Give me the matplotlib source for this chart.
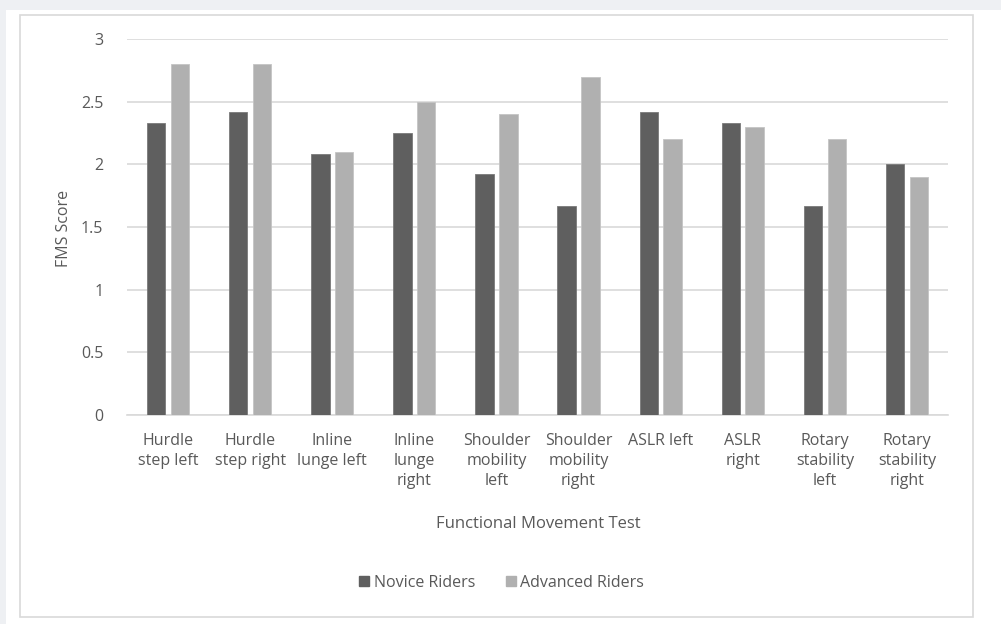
import matplotlib.pyplot as plt
from matplotlib.patches import Rectangle
from matplotlib.lines import Line2D
import numpy as np

tests = ["Hurdle\nstep left", "Hurdle\nstep right", "Inline\nlunge left", "Inline\nlunge\nright",
         "Shoulder\nmobility\nleft", "Shoulder\nmobility\nright", "ASLR left", "ASLR\nright",
         "Rotary\nstability\nleft", "Rotary\nstability\nright"]
novice = [2.33, 2.42, 2.08, 2.25, 1.92, 1.67, 2.42, 2.33, 1.67, 2.0]
advanced = [2.8, 2.8, 2.1, 2.5, 2.4, 2.7, 2.2, 2.3, 2.2, 1.9]
yticks = [0, 0.5, 1, 1.5, 2, 2.5, 3]

TXT = "#595959"
plt.rcParams['font.family'] = ['Open Sans', 'DejaVu Sans']

fig = plt.figure(figsize=(10.01, 6.24), dpi=100, facecolor="#eef0f3")
W, H = 1001, 624
# white chart panel and its thin border
fig.patches.append(Rectangle((6 / W, 0), 1, 1 - 10 / H, transform=fig.transFigure,
                             facecolor="white", edgecolor="none", zorder=-2))
fig.patches.append(Rectangle((20 / W, 1 - 617 / H), 953 / W, 602 / H, transform=fig.transFigure,
                             facecolor="none", edgecolor="#d9d9d9", lw=1.2, zorder=-1))

ax = fig.add_axes([127 / W, 1 - 415 / H, 821 / W, 376 / H])
ax.set_zorder(2)
ax.set_facecolor("none")
x = np.arange(len(tests))
bw = 0.225
ax.bar(x - 0.145, novice, bw, color="#5f5f5f", edgecolor="#7a7a7a", lw=0.6, zorder=3)
ax.bar(x + 0.145, advanced, bw, color="#b0b0b0", edgecolor="#c4c4c4", lw=0.6, zorder=3)

ax.set_xlim(-0.5, len(tests) - 0.5)
ax.set_ylim(0, 3)
ax.set_yticks(yticks)
ax.set_yticklabels([f"{v:g}" for v in yticks])
ax.yaxis.grid(True, color="#d9d9d9", lw=1.2, zorder=0)
ax.set_axisbelow(True)
ax.set_xticks(x)
ax.set_xticklabels(tests, linespacing=1.35)
ax.tick_params(axis="both", length=0, colors=TXT, labelsize=11.5)
ax.tick_params(axis="x", pad=13)
ax.tick_params(axis="y", pad=17)
for s in ["top", "right", "left"]:
    ax.spines[s].set_visible(False)
ax.spines["bottom"].set_color("#d9d9d9")
ax.spines["bottom"].set_linewidth(1.2)

fig.text(64 / W, 1 - 228 / H, "FMS Score", rotation=90, ha="center", va="center",
         color=TXT, fontsize=11.5)
fig.text(538 / W, 1 - 524 / H, "Functional Movement Test", ha="center", va="center",
         color=TXT, fontsize=12)

handles = [Line2D([], [], ls="none", marker="s", ms=6.5, color="#5f5f5f"),
           Line2D([], [], ls="none", marker="s", ms=6.5, color="#b0b0b0")]
fig.legend(handles, ["Novice Riders", "Advanced Riders"], loc="center",
           bbox_to_anchor=(501 / W, 1 - 583 / H), ncol=2, frameon=False,
           handlelength=0.8, handletextpad=0.2, columnspacing=1.8, labelcolor=TXT, fontsize=11.5)

fig.savefig("out.png", dpi=100, facecolor=fig.get_facecolor())
